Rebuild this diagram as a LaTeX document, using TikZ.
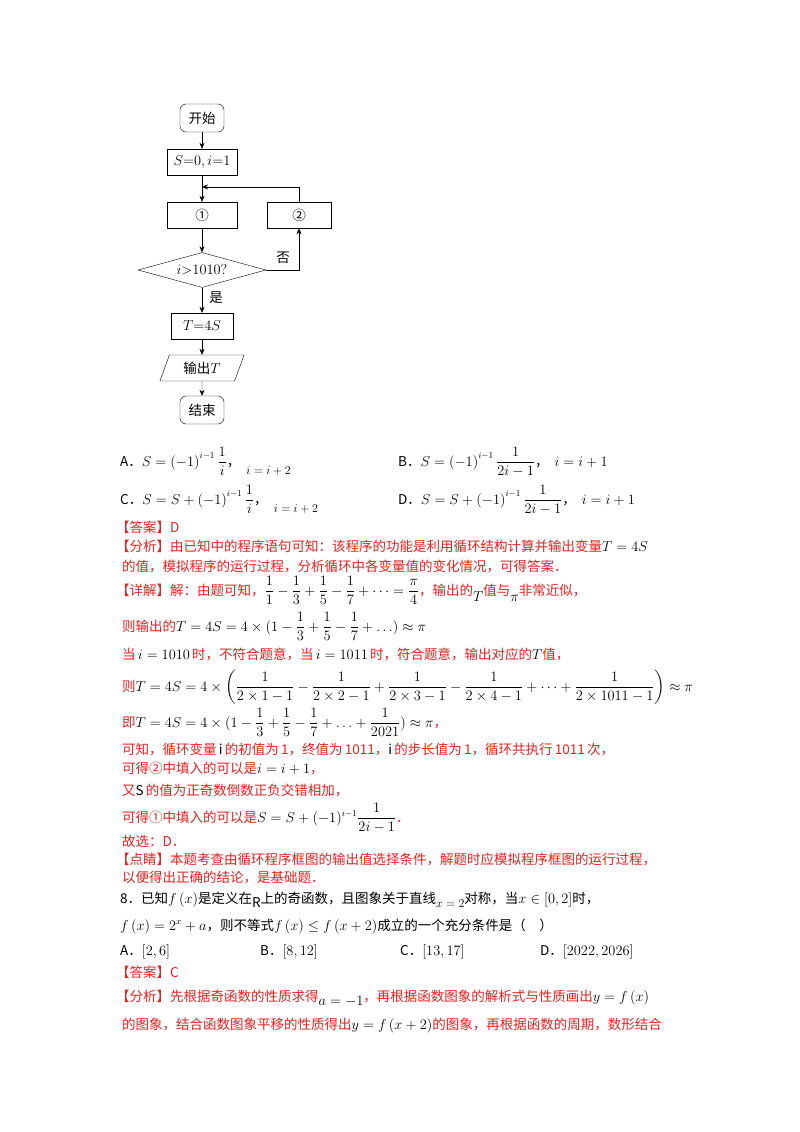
\documentclass[tikz,border=0pt]{standalone}
\usepackage{amsmath}
\usepackage{fontspec}
\setmainfont{Noto Sans CJK SC}
\usetikzlibrary{shapes.geometric,arrows.meta}
\definecolor{ansred}{RGB}{232,32,32}
\newcommand{\mk}[1]{{\color{black}$#1$}}
\newcommand{\smallsz}{\fontsize{12}{14}\selectfont}
\begin{document}
\begin{tikzpicture}[x=1pt,y=-1pt,
  every node/.style={font=\fontsize{13.5}{16}\selectfont, inner sep=0pt},
  box/.style={draw, minimum width=70pt, minimum height=26pt},
  term/.style={draw, rounded corners=6pt, minimum width=44pt, minimum height=28pt},
  line/.style={anchor=base west},
  red/.style={line, text=ansred},
  flow/.style={draw, -{Stealth[length=6pt,width=5pt]}}]
\useasboundingbox[fill=white] (0,0) rectangle (800,1132);
% flowchart
\node[term] (start) at (202,118) {开始};
\node[box] (init) at (202,162) {$S{=}0,i{=}1$};
\node[box] (one) at (202,215) {①};
\node[box, minimum width=64pt] (two) at (299,215) {②};
\node[draw, diamond, aspect=3.7, minimum width=128pt, minimum height=35pt, inner sep=0pt] (cond) at (202,270) {$i{>}1010?$};
\node[box, minimum width=62pt] (calc) at (202,326) {$T{=}4S$};
\node[draw, trapezium, trapezium left angle=70, trapezium right angle=-70, minimum width=72pt, minimum height=26pt, inner sep=2pt] (out) at (202,368) {输出$T$};
\node[term] (end) at (202,410) {结束};
\coordinate (merge) at (202,187);
\node (no) at (283,258) {否};
\node (yes) at (216,298) {是};
\draw[flow] (start) -- (init);
\draw (init) -- (merge);
\draw[flow] (merge) -- (one);
\draw[flow] (one) -- (cond);
\draw[flow] (cond.east) -| (two.south);
\draw[flow] (two.north) |- (merge);
\draw[flow] (cond) -- (calc);
\draw[flow] (calc) -- (out);
\draw[flow] (out) -- (end);
% options
\node[line] (oa) at (120,466) {A．$S=\left(-1\right)^{i-1}\dfrac{1}{i}$，\ \ \raisebox{-8pt}{\smallsz$i=i+2$}};
\node[line] (ob) at (398,466) {B．$S=\left(-1\right)^{i-1}\dfrac{1}{2i-1}$，\ \ $i=i+1$};
\node[line] (oc) at (120,504) {C．$S=S+\left(-1\right)^{i-1}\dfrac{1}{i}$，\ \ \raisebox{-8pt}{\smallsz$i=i+2$}};
\node[line] (od) at (398,504) {D．$S=S+\left(-1\right)^{i-1}\dfrac{1}{2i-1}$，\ \ $i=i+1$};
% solution
\node[red] (l1) at (116,532) {【答案】D};
\node[red] (l2) at (116,551) {【分析】由已知中的程序语句可知：该程序的功能是利用循环结构计算并输出变量\mk{T=4S}};
\node[red] (l3) at (122,571) {的值，模拟程序的运行过程，分析循环中各变量值的变化情况，可得答案．};
\node[red] (l4) at (116,595) {【详解】解：由题可知，\mk{\dfrac11-\dfrac13+\dfrac15-\dfrac17+\cdots=\dfrac\pi4}，输出的\raisebox{-6pt}{\mk{T}}值与\raisebox{-6pt}{\mk{\pi}}非常近似，};
\node[red] (l5) at (122,631) {则输出的\mk{T=4S=4\times(1-\dfrac13+\dfrac15-\dfrac17+\ldots)\approx\pi}};
\node[red] (l6) at (122,659) {当\,\mk{i=1010}\,时，不符合题意，当\,\mk{i=1011}\,时，符合题意，输出对应的\mk{T}值，};
\node[red] (l7) at (122,691) {则\mk{T=4S=4\times\left(\dfrac{1}{2\times1-1}-\dfrac{1}{2\times2-1}+\dfrac{1}{2\times3-1}-\dfrac{1}{2\times4-1}+\cdots+\dfrac{1}{2\times1011-1}\right)\approx\pi}};
\node[red] (l8) at (122,727) {即\mk{T=4S=4\times(1-\dfrac13+\dfrac15-\dfrac17+\ldots+\dfrac{1}{2021})\approx\pi}，};
\node[red] (l9) at (122,754) {可知，循环变量\,\mk{\mathrm{i}}\,的初值为\,1，终值为\,1011，\mk{\mathrm{i}}\,的步长值为\,1，循环共执行\,1011\,次，};
\node[red] (l10) at (122,773) {可得②中填入的可以是\mk{i=i+1}，};
\node[red] (l11) at (122,795) {又\mk{\mathrm{S}}\,的值为正奇数倒数正负交错相加，};
\node[red] (l12) at (122,822) {可得①中填入的可以是\mk{S=S+(-1)^{i-1}\dfrac{1}{2i-1}}．};
\node[red] (l13) at (122,846) {故选：D．};
\node[red] (l14) at (116,864) {【点睛】本题考查由循环程序框图的输出值选择条件，解题时应模拟程序框图的运行过程，};
\node[red] (l15) at (122,882) {以便得出正确的结论，是基础题．};
% question 8
\node[line] (q1) at (120,903) {8．已知$f\left(x\right)$是定义在\raisebox{-4pt}{$\mathrm{R}$}上的奇函数，且图象关于直线\raisebox{-4pt}{\smallsz$x=2$}对称，当$x\in\left[0,2\right]$时，};
\node[line] (q2) at (120,930) {$f\left(x\right)=2^x+a$，则不等式$f\left(x\right)\le f\left(x+2\right)$成立的一个充分条件是（\quad）};
\node[line] (qa) at (120,955) {A．$\left[2,6\right]$};
\node[line] (qb) at (260,955) {B．$\left[8,12\right]$};
\node[line] (qc) at (400,955) {C．$\left[13,17\right]$};
\node[line] (qd) at (540,955) {D．$\left[2022,2026\right]$};
\node[red] (a1) at (116,977) {【答案】C};
\node[red] (a2) at (116,1001) {【分析】先根据奇函数的性质求得\raisebox{-4pt}{\mk{a=-1}}，再根据函数图象的解析式与性质画出\mk{y=f\left(x\right)}};
\node[red] (a3) at (122,1029) {的图象，结合函数图象平移的性质得出\mk{y=f\left(x+2\right)}的图象，再根据函数的周期，数形结合};
\end{tikzpicture}
\end{document}
